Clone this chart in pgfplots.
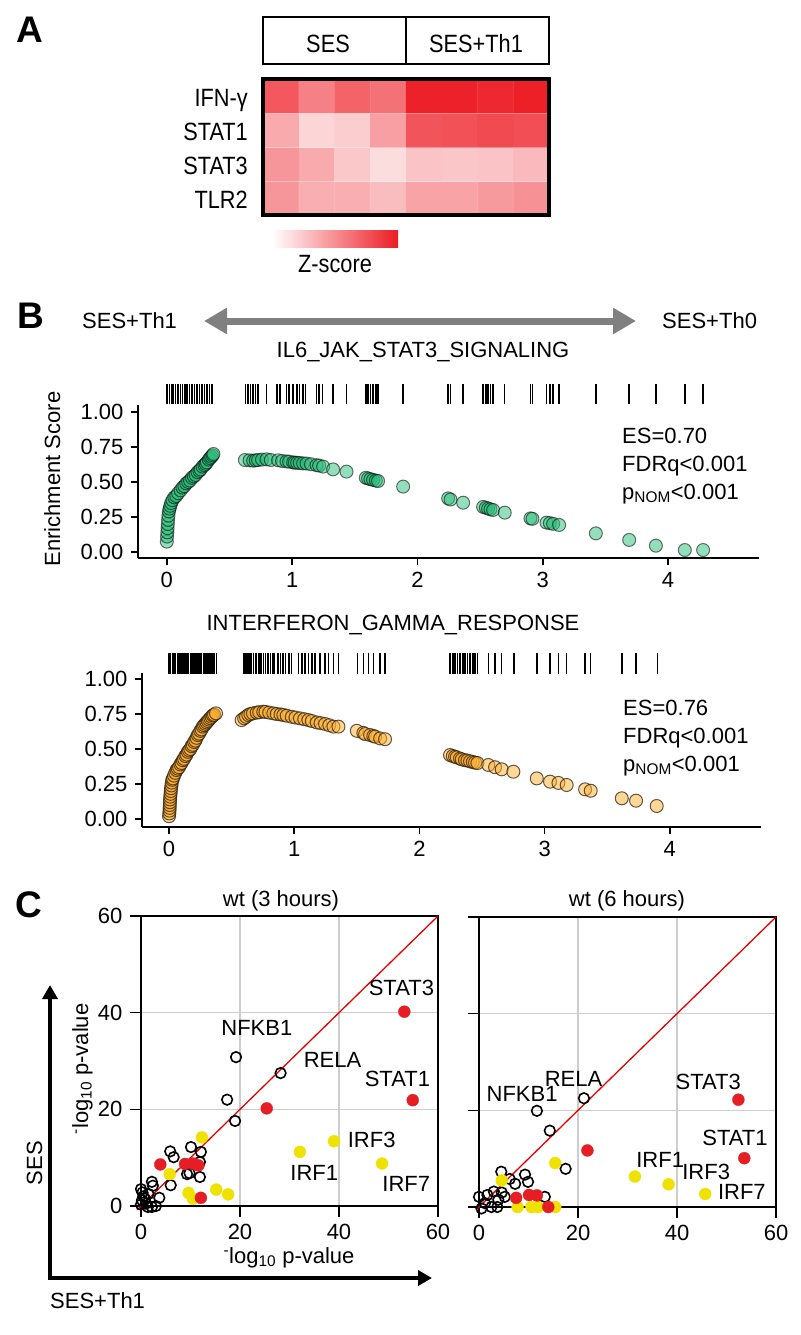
\documentclass[border=0pt]{standalone}
\usepackage{fontspec}
\setmainfont{Liberation Sans}
\newfontfamily\condfont{Liberation Sans}[FakeStretch=0.87]
\usepackage{pgfplots}
\pgfplotsset{compat=1.18}
\usetikzlibrary{arrows.meta}

\definecolor{hmred}{RGB}{237,28,36}
\definecolor{esgreen}{RGB}{40,190,120}
\definecolor{esorange}{RGB}{255,175,45}
\definecolor{ptred}{RGB}{228,30,36}
\definecolor{ptyellow}{RGB}{240,226,0}
\definecolor{diagred}{RGB}{232,0,0}
\definecolor{gridgray}{RGB}{205,205,205}
\definecolor{arrowgray}{RGB}{128,128,128}

\pgfplotsset{
  every axis/.append style={scale only axis, /pgf/number format/assume math mode=true},
  gsea/.style={
    anchor=north west,
    axis x line*=bottom, axis y line*=left,
    axis line style={line width=1.6pt},
    every tick/.style={black, line width=1.6pt},
    tick align=outside, major tick length=7pt,
    xtick={0,1,2,3,4}, ytick={0,0.25,0.5,0.75,1},
    yticklabel style={/pgf/number format/.cd, fixed, fixed zerofill, precision=2, /tikz/.cd},
    clip=false,
  },
  greenpts/.style={only marks, mark=*, mark size=6.5pt,
    mark options={fill=esgreen, fill opacity=0.5, draw=black, draw opacity=0.55, line width=1pt}},
  orangepts/.style={only marks, mark=*, mark size=6.5pt,
    mark options={fill=esorange, fill opacity=0.5, draw=black!75!brown, draw opacity=0.75, line width=1pt}},
  cplot/.style={
    anchor=north west, width=297pt, height=290pt,
    xmin=0, xmax=60, ymin=0, ymax=60,
    xtick={0,20,40,60}, ytick={0,20,40,60},
    tick pos=left, tick align=outside, major tick length=11pt,
    grid=major, grid style={gridgray, line width=1.3pt},
    axis line style={line width=1.6pt},
    every tick/.style={black, line width=1.6pt},
    clip=false,
  },
  openpts/.style={only marks, mark=o, mark size=5.3pt, mark options={draw=black, line width=1.6pt}},
  redpts/.style={only marks, mark=*, mark size=6pt, mark options={fill=ptred, draw=ptred, line width=0.3pt}},
  yelpts/.style={only marks, mark=*, mark size=6pt, mark options={fill=ptyellow, draw=ptyellow, line width=0.3pt}},
}

\begin{document}
\fontsize{22}{26}\selectfont
\begin{tikzpicture}
\useasboundingbox (0,0) rectangle (800pt,-1335pt);
\tikzset{lab/.style={inner sep=0pt}, alab/.style={inner sep=0pt, font=\condfont\fontsize{25}{29}\selectfont}}

% ---------- panel A ----------
\node[lab, anchor=base west, font=\fontsize{37}{40}\selectfont\bfseries] at (16pt,-43pt) {A};
\draw[line width=1.4pt] (263pt,-17pt) rectangle (549pt,-64pt);
\draw[line width=1.4pt] (406pt,-17pt) -- (406pt,-64pt);
\node[alab, anchor=base] at (328pt,-53pt) {SES};
\node[alab, anchor=base] at (476pt,-53pt) {SES+Th1};

\begin{axis}[at={(263pt,-79pt)}, anchor=north west, width=286pt, height=136pt,
  xmin=0.5, xmax=8.5, ymin=0.5, ymax=4.5, enlargelimits=false,
  colormap={wr}{rgb255=(255,255,255) rgb255=(237,28,36)},
  point meta min=0, point meta max=1,
  xtick=\empty, ytick={1,2,3,4}, yticklabels={TLR2,STAT3,STAT1,IFN-γ},
  major tick length=0pt, minor tick length=0pt,
  minor xtick={1.5,2.5,...,7.5}, minor ytick={1.5,2.5,3.5},
  grid=minor, minor grid style={white, opacity=0.35, line width=1pt},
  axis on top, axis line style={line width=3.5pt},
  yticklabel style={alab, anchor=base east, xshift=-15pt, yshift=-10pt}]
\addplot[matrix plot*, mesh/cols=8, point meta=explicit] table[meta=z] {
x y z
1 1 0.46
2 1 0.35
3 1 0.35
4 1 0.29
5 1 0.40
6 1 0.40
7 1 0.44
8 1 0.48
1 2 0.46
2 2 0.37
3 2 0.24
4 2 0.15
5 2 0.26
6 2 0.25
7 2 0.26
8 2 0.30
1 3 0.37
2 3 0.18
3 3 0.22
4 3 0.42
5 3 0.75
6 3 0.76
7 3 0.79
8 3 0.77
1 4 0.73
2 4 0.55
3 4 0.68
4 4 0.62
5 4 0.97
6 4 0.97
7 4 0.94
8 4 0.98
};
\end{axis}
\shade[left color=white, right color=hmred] (272pt,-230pt) rectangle (398pt,-247pt);
\node[alab, anchor=base] at (335pt,-272pt) {Z-score};

% ---------- panel B ----------
\node[lab, anchor=base west, font=\fontsize{37}{40}\selectfont\bfseries] at (17pt,-328pt) {B};
\node[lab, anchor=base west] at (82pt,-328pt) {SES+Th1};
\node[lab, anchor=base west] at (662pt,-328pt) {SES+Th0};
\draw[arrowgray, line width=7pt, {Triangle[length=23pt,width=25pt]}-{Triangle[length=23pt,width=25pt]}]
  (204pt,-321pt) -- (636pt,-321pt);
\node[lab, anchor=base] at (423pt,-357pt) {IL6\_JAK\_STAT3\_SIGNALING};
\node[lab, anchor=base, rotate=90] at (60pt,-479pt) {Enrichment Score};

\begin{axis}[gsea, at={(138pt,-405pt)}, width=621pt, height=153pt,
  xmin=-0.23, xmax=4.726, ymin=-0.043, ymax=1.05]
\addplot[only marks, mark=|, mark size=10pt, mark options={line width=1.4pt}] coordinates {
(0.00,1.129) (0.02,1.129) (0.04,1.129) (0.055,1.129) (0.07,1.129) (0.09,1.129) (0.11,1.129)
(0.125,1.129) (0.145,1.129) (0.16,1.129) (0.18,1.129) (0.20,1.129) (0.22,1.129) (0.24,1.129)
(0.26,1.129) (0.28,1.129) (0.30,1.129) (0.32,1.129) (0.34,1.129) (0.36,1.129)
(0.63,1.129) (0.649,1.129) (0.668,1.129) (0.689,1.129) (0.71,1.129) (0.729,1.129) (0.796,1.129)
(0.880,1.129) (0.902,1.129) (0.955,1.129) (0.976,1.129) (1.008,1.129) (1.040,1.129) (1.061,1.129)
(1.088,1.129) (1.109,1.129) (1.195,1.129) (1.216,1.129) (1.243,1.129) (1.327,1.129) (1.434,1.129)
(1.588,1.129) (1.606,1.129) (1.625,1.129) (1.646,1.129) (1.668,1.129) (1.686,1.129) (1.886,1.129)
(2.245,1.129) (2.264,1.129) (2.365,1.129) (2.524,1.129) (2.546,1.129) (2.564,1.129) (2.583,1.129)
(2.604,1.129) (2.697,1.129) (2.902,1.129) (2.918,1.129) (3.03,1.129) (3.057,1.129) (3.083,1.129)
(3.131,1.129) (3.424,1.129) (3.69,1.129) (3.903,1.129) (4.134,1.129) (4.28,1.129)};
\addplot[greenpts] table {
x y
0.000 0.074
0.002 0.11
0.004 0.14
0.006 0.17
0.008 0.20
0.010 0.23
0.013 0.26
0.017 0.29
0.022 0.31
0.028 0.33
0.035 0.35
0.045 0.37
0.060 0.39
0.075 0.40
0.090 0.42
0.110 0.44
0.125 0.46
0.140 0.47
0.155 0.49
0.170 0.50
0.185 0.51
0.200 0.53
0.215 0.54
0.230 0.55
0.245 0.57
0.260 0.58
0.270 0.59
0.285 0.61
0.300 0.62
0.310 0.63
0.320 0.64
0.335 0.66
0.345 0.67
0.355 0.68
0.365 0.69
0.372 0.70
0.623 0.657
0.660 0.655
0.689 0.652
0.710 0.655
0.729 0.657
0.760 0.660
0.796 0.662
0.830 0.657
0.888 0.655
0.920 0.650
0.955 0.647
0.976 0.645
1.008 0.640
1.022 0.638
1.040 0.637
1.061 0.636
1.088 0.633
1.115 0.632
1.150 0.627
1.195 0.620
1.216 0.617
1.248 0.610
1.327 0.590
1.434 0.574
1.588 0.530
1.606 0.525
1.625 0.520
1.646 0.515
1.668 0.510
1.686 0.507
1.886 0.467
2.245 0.383
2.264 0.375
2.365 0.352
2.524 0.322
2.546 0.316
2.564 0.310
2.583 0.305
2.604 0.300
2.697 0.281
2.902 0.240
2.918 0.237
3.030 0.210
3.057 0.206
3.083 0.201
3.131 0.193
3.424 0.133
3.690 0.086
3.903 0.045
4.134 0.014
4.280 0.014
};
\end{axis}
\node[lab, anchor=base west] at (622pt,-443pt) {ES=0.70};
\node[lab, anchor=base west] at (622pt,-471pt) {FDRq<0.001};
\node[lab, anchor=base west] at (622pt,-499pt) {p\textsubscript{NOM}<0.001};

\node[lab, anchor=base] at (393pt,-630pt) {INTERFERON\_GAMMA\_RESPONSE};

\begin{axis}[gsea, at={(142pt,-673pt)}, width=619pt, height=154pt,
  xmin=-0.216, xmax=4.728, ymin=-0.057, ymax=1.043]
\addplot[only marks, mark=|, mark size=10.5pt, mark options={line width=1.5pt}] coordinates {
(0.000,1.111) (0.013,1.111) (0.026,1.111) (0.040,1.111) (0.052,1.111) (0.066,1.111) (0.078,1.111)
(0.092,1.111) (0.104,1.111) (0.118,1.111) (0.130,1.111) (0.144,1.111) (0.156,1.111) (0.170,1.111)
(0.182,1.111) (0.196,1.111) (0.208,1.111) (0.222,1.111) (0.234,1.111) (0.248,1.111) (0.260,1.111)
(0.274,1.111) (0.286,1.111) (0.300,1.111) (0.312,1.111) (0.326,1.111) (0.338,1.111) (0.352,1.111)
(0.364,1.111) (0.378,1.111)
(0.594,1.111) (0.605,1.111) (0.615,1.111) (0.625,1.111) (0.640,1.111) (0.650,1.111) (0.660,1.111)
(0.675,1.111) (0.690,1.111) (0.700,1.111) (0.720,1.111) (0.735,1.111) (0.755,1.111) (0.770,1.111)
(0.790,1.111) (0.810,1.111) (0.830,1.111) (0.840,1.111) (0.870,1.111) (0.890,1.111) (0.910,1.111)
(0.930,1.111) (0.960,1.111) (0.980,1.111) (1.033,1.111) (1.060,1.111) (1.086,1.111) (1.113,1.111)
(1.140,1.111) (1.166,1.111) (1.206,1.111) (1.246,1.111) (1.273,1.111) (1.313,1.111) (1.353,1.111)
(1.504,1.111) (1.552,1.111) (1.592,1.111) (1.632,1.111) (1.685,1.111) (1.725,1.111)
(2.244,1.111) (2.266,1.111) (2.284,1.111) (2.303,1.111) (2.324,1.111) (2.346,1.111) (2.364,1.111)
(2.383,1.111) (2.404,1.111) (2.426,1.111) (2.444,1.111) (2.463,1.111) (2.550,1.111) (2.604,1.111)
(2.657,1.111) (2.756,1.111) (2.937,1.111) (3.043,1.111) (3.110,1.111) (3.176,1.111) (3.323,1.111)
(3.368,1.111) (3.616,1.111) (3.730,1.111) (3.900,1.111)};
\addplot[orangepts] table {
x y
0.000 0.02
0.002 0.04
0.004 0.06
0.005 0.08
0.006 0.10
0.007 0.12
0.008 0.14
0.010 0.16
0.012 0.18
0.014 0.20
0.016 0.22
0.019 0.24
0.022 0.26
0.026 0.28
0.032 0.29
0.040 0.31
0.050 0.33
0.060 0.35
0.070 0.36
0.080 0.37
0.090 0.39
0.100 0.40
0.110 0.42
0.120 0.43
0.130 0.45
0.140 0.46
0.150 0.48
0.160 0.49
0.170 0.50
0.180 0.52
0.190 0.53
0.200 0.55
0.210 0.56
0.220 0.58
0.230 0.60
0.240 0.61
0.250 0.63
0.260 0.64
0.270 0.66
0.280 0.67
0.290 0.68
0.300 0.69
0.310 0.70
0.320 0.71
0.330 0.72
0.340 0.73
0.350 0.74
0.360 0.745
0.375 0.755
0.580 0.707
0.600 0.720
0.615 0.730
0.633 0.743
0.650 0.750
0.670 0.755
0.700 0.760
0.720 0.763
0.753 0.767
0.770 0.765
0.800 0.760
0.833 0.755
0.860 0.750
0.890 0.747
0.913 0.743
0.940 0.738
0.980 0.730
1.010 0.725
1.046 0.719
1.080 0.713
1.113 0.707
1.140 0.700
1.180 0.690
1.210 0.685
1.246 0.679
1.280 0.670
1.313 0.660
1.353 0.660
1.500 0.630
1.552 0.615
1.566 0.607
1.606 0.600
1.632 0.593
1.646 0.588
1.686 0.576
1.725 0.570
2.244 0.457
2.266 0.450
2.284 0.445
2.298 0.440
2.324 0.432
2.338 0.426
2.364 0.420
2.383 0.418
2.404 0.412
2.426 0.407
2.444 0.403
2.463 0.400
2.550 0.386
2.604 0.370
2.657 0.355
2.750 0.338
2.937 0.290
3.043 0.267
3.110 0.258
3.176 0.243
3.323 0.212
3.368 0.202
3.616 0.148
3.730 0.131
3.895 0.093
};
\end{axis}
\node[lab, anchor=base west] at (623pt,-715pt) {ES=0.76};
\node[lab, anchor=base west] at (623pt,-743pt) {FDRq<0.001};
\node[lab, anchor=base west] at (623pt,-771pt) {p\textsubscript{NOM}<0.001};

% ---------- panel C ----------
\node[lab, anchor=base west, font=\fontsize{37}{40}\selectfont\bfseries] at (15pt,-917pt) {C};
\node[lab, anchor=base] at (281pt,-906pt) {wt (3 hours)};
\node[lab, anchor=base] at (627pt,-906pt) {wt (6 hours)};

\begin{axis}[cplot, at={(141pt,-916pt)}]
\addplot[diagred, line width=1.3pt] coordinates {(-0.8,-0.8) (60,60)};
\addplot[openpts] coordinates {
(19.2,30.8) (28.2,27.5) (17.4,22.0) (19.0,17.6) (10.1,12.2) (12.1,11.2) (5.9,11.3)
(6.6,10.1) (11.9,9.1) (9.3,6.6) (9.8,6.8) (11.9,6.0) (6.0,4.3) (2.2,5.0) (2.4,4.2)
(3.7,1.7) (0.0,3.5) (0.3,2.8) (0.5,2.0) (0.2,1.2) (0.0,0.3) (1.0,0.5) (0.8,1.5)
(1.5,2.5) (1.4,-0.2) (2.2,-0.2) (3.0,0.0)};
\addplot[yelpts] coordinates {
(32.1,11.2) (39.0,13.4) (48.7,8.8) (12.3,14.2) (5.8,6.6) (9.6,2.7) (10.5,1.5)
(15.2,3.4) (17.6,2.4)};
\addplot[redpts] coordinates {
(53.2,40.2) (54.9,21.9) (25.4,20.2) (3.9,8.6) (8.9,8.7) (10.5,8.8) (11.6,8.4) (12.1,1.7)};
\node[lab] at (axis cs:52.6,45.1) {STAT3};
\node[lab] at (axis cs:23.4,36.8) {NFKB1};
\node[lab] at (axis cs:38.7,30.2) {RELA};
\node[lab] at (axis cs:51.8,26.2) {STAT1};
\node[lab] at (axis cs:46.6,13.7) {IRF3};
\node[lab] at (axis cs:35.0,6.8) {IRF1};
\node[lab] at (axis cs:53.6,4.6) {IRF7};
\end{axis}

\begin{axis}[cplot, at={(479pt,-917pt)}, yticklabels={}]
\addplot[diagred, line width=1.3pt] coordinates {(-0.5,-0.5) (60,60)};
\addplot[openpts] coordinates {
(11.7,19.9) (21.2,22.5) (14.3,15.8) (17.5,7.9) (4.5,7.3) (9.3,6.7) (9.9,5.2) (7.3,4.8)
(6.2,5.8) (13.3,2.1) (0.0,2.1) (1.7,2.5) (3.0,3.2) (4.6,3.0) (5.2,2.1) (1.2,0.8)
(2.5,0.0) (3.7,0.0) (0.5,-0.3) (3.9,1.5)};
\addplot[yelpts] coordinates {
(31.5,6.3) (38.3,4.7) (45.7,2.7) (15.4,9.1) (4.6,5.5) (7.8,0.0) (10.6,0.0) (11.9,0.0) (15.4,0.0)};
\addplot[redpts] coordinates {
(52.4,22.2) (53.6,10.1) (21.9,11.7) (7.5,1.9) (10.1,2.5) (11.7,2.4) (14.0,0.0)};
\node[lab] at (axis cs:19.1,26.5) {RELA};
\node[lab] at (axis cs:8.7,23.4) {NFKB1};
\node[lab] at (axis cs:46.3,25.9) {STAT3};
\node[lab] at (axis cs:51.7,14.3) {STAT1};
\node[lab] at (axis cs:36.6,9.8) {IRF1};
\node[lab] at (axis cs:45.9,7.2) {IRF3};
\node[lab] at (axis cs:53.1,3.1) {IRF7};
\end{axis}

\node[lab, anchor=base, rotate=90] at (88pt,-1069pt) {\textsuperscript{-}log\textsubscript{10} p-value};
\node[lab, anchor=base] at (289pt,-1263pt) {\textsuperscript{-}log\textsubscript{10} p-value};
\draw[line width=3.5pt, {Triangle[length=14pt,width=15pt]}-{Triangle[length=14pt,width=15pt]}]
  (50pt,-985pt) -- (50pt,-1278pt) -- (432pt,-1278pt);
\node[lab, anchor=base, rotate=90] at (42pt,-1163pt) {SES};
\node[lab, anchor=base west] at (50pt,-1308pt) {SES+Th1};
\end{tikzpicture}
\end{document}
